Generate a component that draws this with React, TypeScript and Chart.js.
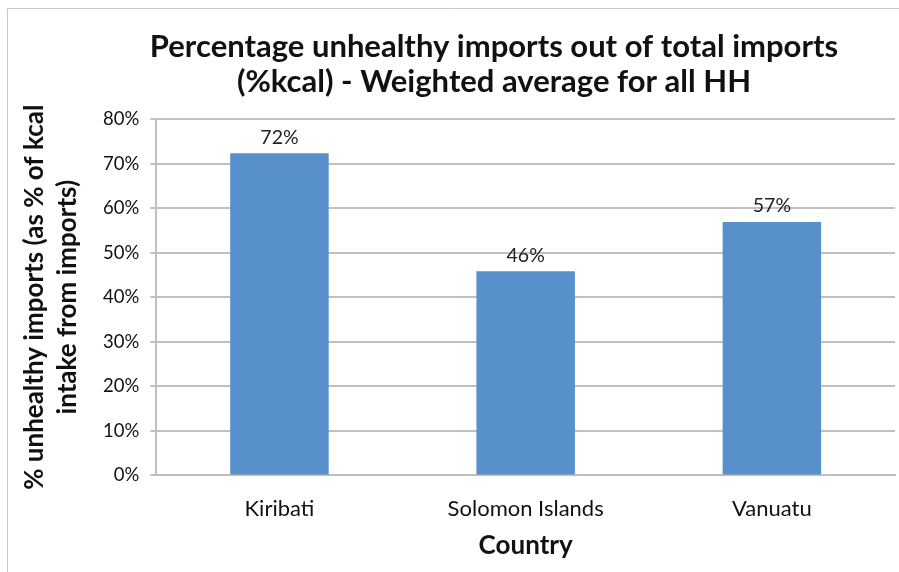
import React, { useEffect, useRef } from "react";
import { Chart, registerables } from "chart.js";

Chart.register(...registerables);

const categories = ["Kiribati", "Solomon Islands", "Vanuatu"];
const values = [72.3, 45.8, 56.9];
const valueLabels = ["72%", "46%", "57%"];
const titleLines = [
  "Percentage unhealthy imports out of total imports",
  "(%kcal) - Weighted average for all HH",
];
const yTitleLines = ["% unhealthy imports (as % of kcal", "intake from imports)"];
const xTitle = "Country";

const FONT = "Lato, 'Open Sans', sans-serif";

export default function App() {
  const ref = useRef<HTMLCanvasElement | null>(null);

  useEffect(() => {
    document.body.style.margin = "0";
    const canvas = ref.current;
    if (!canvas) return;

    const labelPlugin = {
      id: "barLabels",
      afterDatasetsDraw(chart: any) {
        const ctx = chart.ctx;
        const meta = chart.getDatasetMeta(0);
        ctx.save();
        ctx.font = `19.5px ${FONT}`;
        ctx.fillStyle = "#222";
        ctx.textAlign = "center";
        ctx.textBaseline = "bottom";
        meta.data.forEach((bar: any, i: number) => {
          ctx.fillText(valueLabels[i], bar.x, bar.y - 6);
        });
        ctx.restore();
      },
    };

    const titlePlugin = {
      id: "customTitle",
      afterDraw(chart: any) {
        const ctx = chart.ctx;
        ctx.save();
        ctx.font = `bold 31px ${FONT}`;
        ctx.fillStyle = "#111";
        ctx.textAlign = "center";
        ctx.textBaseline = "middle";
        ctx.fillText(titleLines[0], 494, 47);
        ctx.fillText(titleLines[1], 494, 82);
        ctx.restore();
      },
    };

    const framePlugin = {
      id: "frame",
      beforeDraw(chart: any) {
        const ctx = chart.ctx;
        ctx.save();
        ctx.strokeStyle = "#c8c8c8";
        ctx.lineWidth = 1;
        ctx.beginPath();
        ctx.moveTo(7.5, 572);
        ctx.lineTo(7.5, 8.5);
        ctx.lineTo(899, 8.5);
        ctx.stroke();
        ctx.restore();
      },
    };

    const chart = new Chart(canvas, {
      type: "bar",
      data: {
        labels: categories,
        datasets: [
          {
            data: values,
            backgroundColor: "#5790CB",
            borderWidth: 0,
            categoryPercentage: 1,
            barPercentage: 0.4,
          },
        ],
      },
      options: {
        animation: false,
        responsive: false,
        maintainAspectRatio: false,
        layout: { padding: { top: 119, left: 18, right: 4, bottom: 11 } },
        plugins: {
          legend: { display: false },
          tooltip: { enabled: false },
          title: { display: false },
        },
        scales: {
          x: {
            grid: { display: false, drawTicks: false },
            border: { color: "#bfbfbf", width: 2 },
            ticks: {
              color: "#111",
              font: { family: FONT, size: 22 },
              padding: 20,
            },
            title: {
              display: true,
              text: xTitle,
              color: "#111",
              font: { family: FONT, size: 26, weight: "bold" },
              padding: { top: -12, bottom: 0 },
            },
          },
          y: {
            min: 0,
            max: 80,
            ticks: {
              stepSize: 10,
              color: "#111",
              font: { family: FONT, size: 18.5 },
              padding: 11,
              callback: (v: any) => `${v}%`,
            },
            grid: { color: "#c0c0c0", lineWidth: 2, tickLength: 6 },
            border: { color: "#bfbfbf", width: 2 },
            title: {
              display: true,
              text: yTitleLines,
              color: "#111",
              font: { family: FONT, size: 26, weight: "bold", lineHeight: 1.27 },
              padding: { top: 0, bottom: 8 },
            },
          },
        },
      },
      plugins: [labelPlugin, titlePlugin, framePlugin],
    });

    return () => chart.destroy();
  }, []);

  return (
    <div style={{ position: "absolute", left: 0, top: 0, width: 899, height: 572, background: "#fff" }}>
      <canvas ref={ref} width={899} height={572} style={{ display: "block" }} />
    </div>
  );
}
